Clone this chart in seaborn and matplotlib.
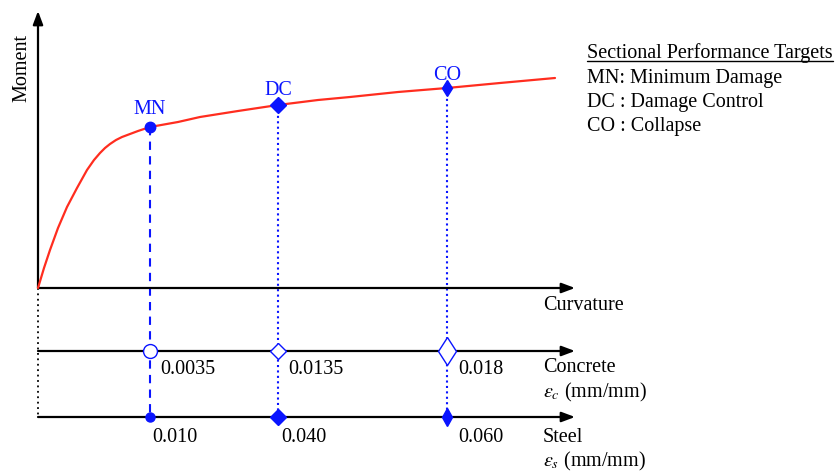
import matplotlib
matplotlib.use("Agg")
import matplotlib.pyplot as plt
import seaborn as sns
import pandas as pd

# Moment-curvature response (schematic units: curvature to the right, moment up)
curvature = [0, 6, 12, 20, 29, 39, 49, 56, 62, 67, 72, 78, 84, 92, 100, 112, 140, 162, 200, 240, 280, 312, 360, 409, 462, 517]
moment = [0, 20, 38, 60, 81, 100, 118, 128, 135, 140, 144, 148, 151, 154, 157, 161, 166, 171, 177, 183, 188, 191, 196, 200, 205, 210]

# Sectional performance targets on the curve
targets = ["MN", "DC", "CO"]
target_curvature = [112, 240, 409]
target_moment = [161, 183, 200]

# Strain limits for each target
concrete_strain = ["0.0035", "0.0135", "0.018"]
steel_strain = ["0.010", "0.040", "0.060"]

legend_title = "Sectional Performance Targets"
legend_lines = ["MN: Minimum Damage", "DC : Damage Control", "CO : Collapse"]

# Levels of the auxiliary strain axes below the curvature axis
concrete_level = -63
steel_level = -129
axis_end = 537
moment_top = 277

sns.set_style("white")
plt.rcParams["font.family"] = ["Liberation Serif", "DejaVu Serif"]
plt.rcParams["mathtext.fontset"] = "stix"
plt.rcParams["text.color"] = "black"

blue = "#0a14ff"
red = "#ff2d1f"
fs = 14.5

fig = plt.figure(figsize=(8.38, 4.71), dpi=100)
ax = fig.add_axes([0, 0, 1, 1])
ax.set_xlim(-38, 800)
ax.set_ylim(-183, 288)
ax.axis("off")

# Axes arrows
arrow = dict(arrowstyle="-|>,head_length=0.8,head_width=0.3", color="black", lw=1.6,
             shrinkA=0, shrinkB=0)
ax.annotate("", xy=(0, moment_top), xytext=(0, 0), arrowprops=arrow)
for lvl in [0, concrete_level, steel_level]:
    ax.annotate("", xy=(axis_end, lvl), xytext=(0, lvl), arrowprops=arrow)
ax.plot([0, 0], [0, steel_level], color="black", lw=1.3, ls=(0, (1, 2)), zorder=1)

# Moment-curvature curve
df = pd.DataFrame({"curvature": curvature, "moment": moment})
sns.lineplot(data=df, x="curvature", y="moment", ax=ax, color=red, lw=1.6,
             sort=False, estimator=None, zorder=3)

# Vertical projection lines from each target to the strain axes
styles = [(0, (4, 3)), (0, (1, 1.6)), (0, (1, 1.6))]
for xc, ym, st in zip(target_curvature, target_moment, styles):
    ax.plot([xc, xc], [ym, steel_level], color=blue, lw=1.5, ls=st, zorder=2)

# Markers on the curve
curve_markers = [("o", 7.5), ("D", 8.5), ("d", 8)]
for xc, ym, (mk, ms) in zip(target_curvature, target_moment, curve_markers):
    ax.plot(xc, ym, marker=mk, ms=ms, color=blue, mec=blue, zorder=5)

# Concrete strain markers (open)
conc_markers = [("o", 10), ("D", 8.5), ("d", 14.5)]
for xc, (mk, ms) in zip(target_curvature, conc_markers):
    ax.plot(xc, concrete_level, marker=mk, ms=ms, mfc="white", mec=blue, mew=1.0, zorder=5)

# Steel strain markers (filled)
steel_markers = [("o", 6.5), ("D", 8.5), ("d", 9)]
for xc, (mk, ms) in zip(target_curvature, steel_markers):
    ax.plot(xc, steel_level, marker=mk, ms=ms, color=blue, zorder=5)

# Target labels
label_gap = [13, 10, 8]
for name, xc, ym, g in zip(targets, target_curvature, target_moment, label_gap):
    ax.text(xc, ym + g, name, color=blue, fontsize=fs, ha="center", va="baseline")

# Strain values
conc_dx = [10, 10, 11]
steel_dx = [2, 3, 11]
for xc, lab, dx in zip(target_curvature, concrete_strain, conc_dx):
    ax.text(xc + dx, concrete_level - 18, lab, fontsize=fs, ha="left", va="center")
for xc, lab, dx in zip(target_curvature, steel_strain, steel_dx):
    ax.text(xc + dx, steel_level - 21, lab, fontsize=fs, ha="left", va="center")

# Axis names
ax.text(-16, 220, "Moment", fontsize=fs, rotation=90, ha="center", va="center")
ax.text(505, -18, "Curvature", fontsize=fs, ha="left", va="center")
ax.text(505, concrete_level - 17, "Concrete", fontsize=fs, ha="left", va="center")
ax.text(505, concrete_level - 41, r"$\varepsilon_c$ (mm/mm)", fontsize=fs, ha="left", va="center")
ax.text(505, steel_level - 20, "Steel", fontsize=fs, ha="left", va="center")
ax.text(505, steel_level - 44, r"$\varepsilon_s$ (mm/mm)", fontsize=fs, ha="left", va="center")

# Performance target key
title = ax.text(549, 235, legend_title, fontsize=fs, ha="left", va="center")
for i, line in enumerate(legend_lines):
    ax.text(549, 210 - 24.5 * i, line, fontsize=fs, ha="left", va="center")

fig.canvas.draw()
bb = title.get_window_extent(fig.canvas.get_renderer())
inv = ax.transData.inverted()
(x0, y0), (x1, _) = inv.transform([(bb.x0, bb.y0), (bb.x1, bb.y0)])
ax.plot([x0, x1], [y0 + 1.5, y0 + 1.5], color="black", lw=1.0)

fig.savefig("out.png", dpi=100)
